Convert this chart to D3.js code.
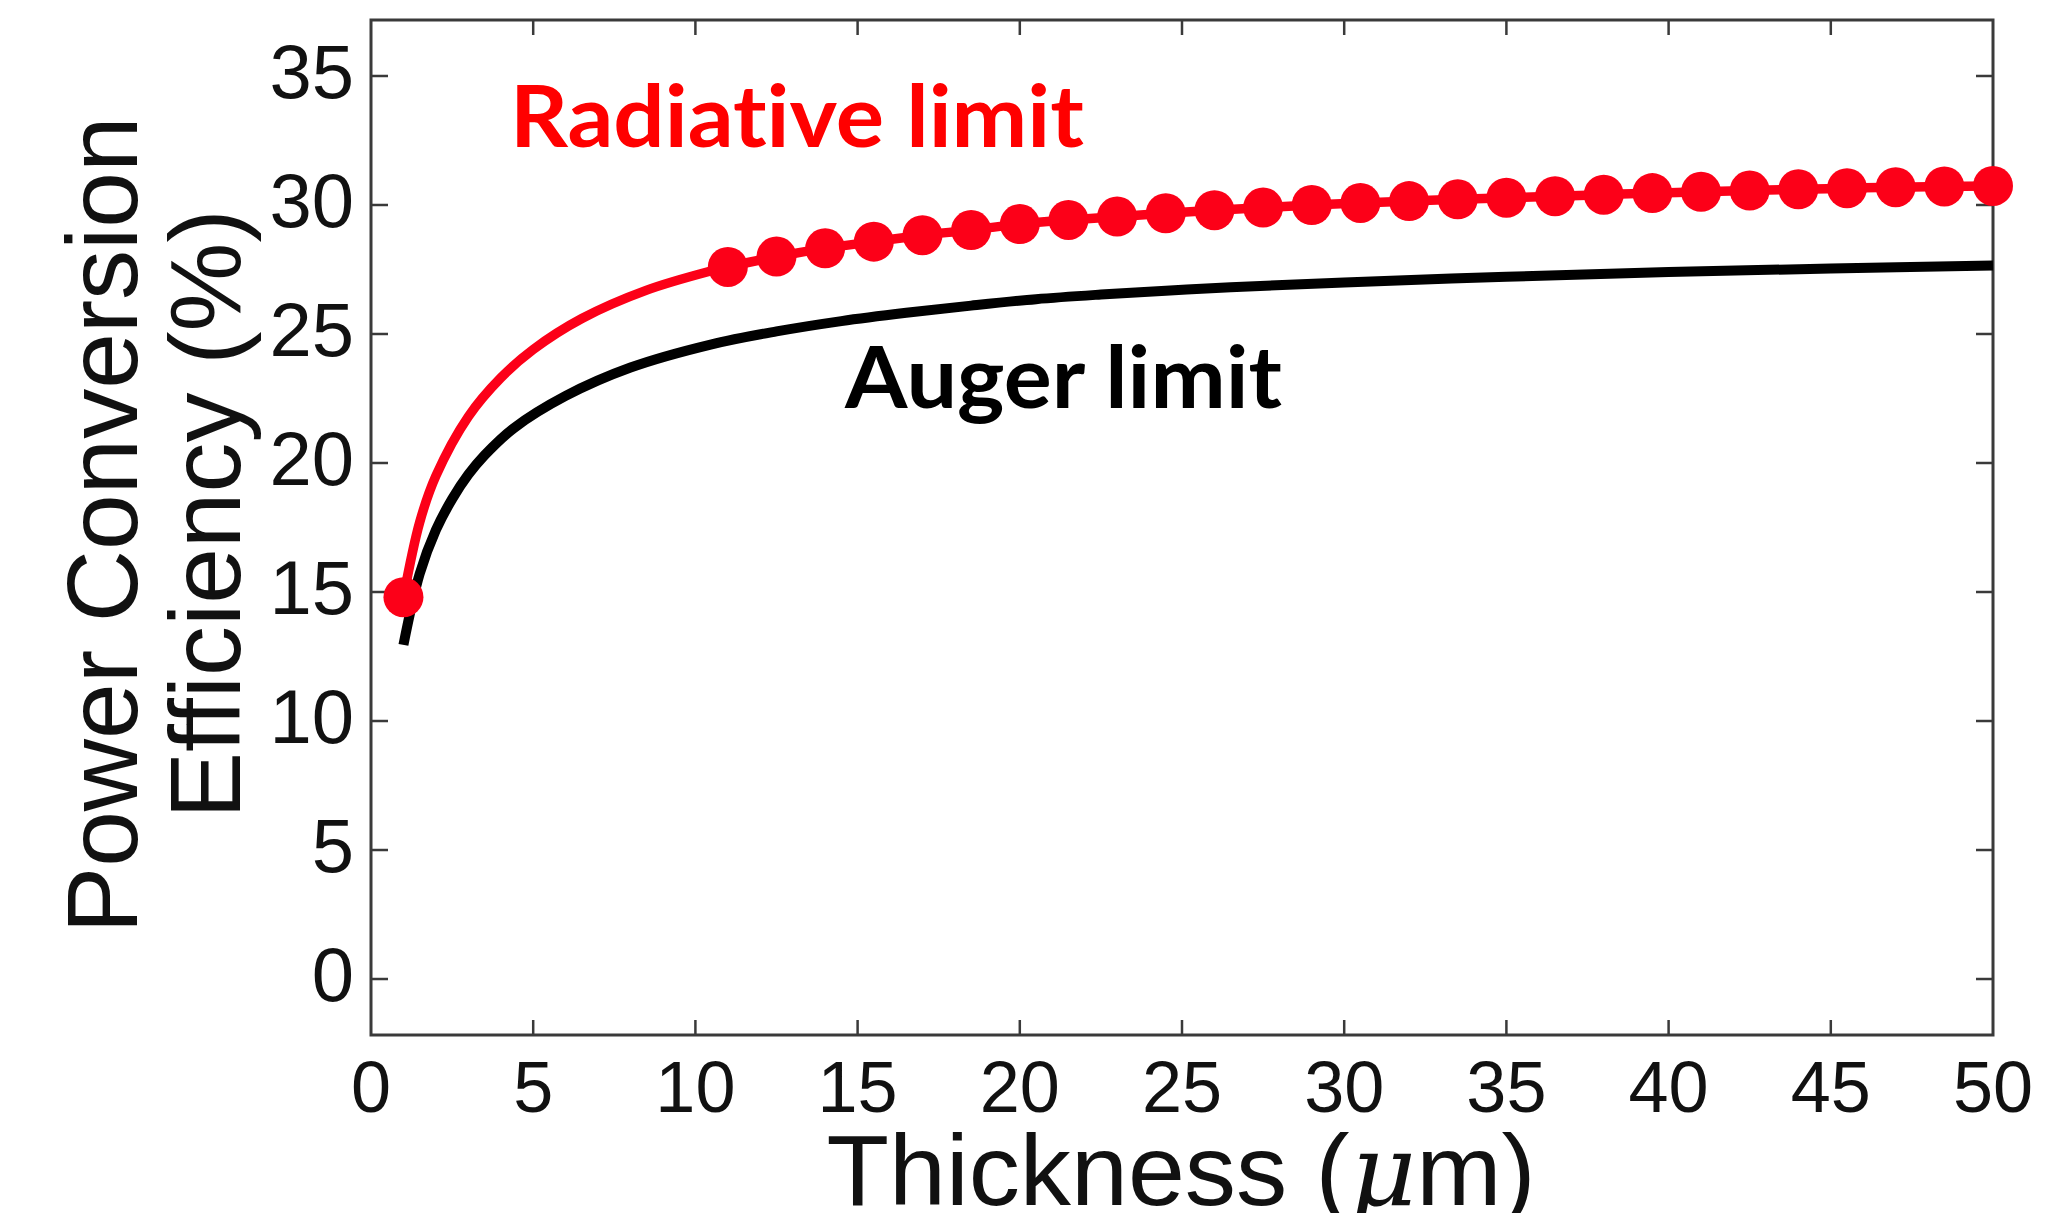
<!DOCTYPE html>
<html>
<head>
<meta charset="utf-8">
<script src="https://cdn.jsdelivr.net/npm/d3@7"></script>
<style>
  html, body { margin: 0; padding: 0; background: #fff; }
  svg { display: block; }
  text { font-variant-ligatures: none; font-feature-settings: "liga" 0, "clig" 0; }
</style>
</head>
<body>
<svg id="chart" width="2072" height="1213"></svg>
<script>
// ---- data ----
const xTicks = [0, 5, 10, 15, 20, 25, 30, 35, 40, 45, 50];
const yTicks = [0, 5, 10, 15, 20, 25, 30, 35];

// Radiative limit: smooth part (thin thickness) then marked points
const radCurveX = [1, 1.5, 2, 3, 4, 5, 6.5, 8.5, 10.5];
const radCurveY = [14.8, 17.7, 19.5, 21.8, 23.3, 24.4, 25.6, 26.7, 27.45];
const radDotX = [1, 11, 12.5, 14, 15.5, 17, 18.5, 20, 21.5, 23, 24.5, 26, 27.5, 29, 30.5, 32, 33.5, 35, 36.5, 38, 39.5, 41, 42.5, 44, 45.5, 47, 48.5, 50];
const radDotY = [14.8, 27.6, 28.0, 28.32, 28.58, 28.83, 29.03, 29.26, 29.42, 29.55, 29.68, 29.8, 29.9, 30.0, 30.08, 30.15, 30.22, 30.28, 30.34, 30.4, 30.46, 30.51, 30.56, 30.61, 30.65, 30.69, 30.72, 30.74];

// Auger limit
const augX = [1, 1.5, 2, 2.5, 3, 3.5, 4.4, 6, 8, 10.5, 12.5, 14.5, 16.5, 18.5, 20.5, 22.5, 24.5, 26.5, 30, 35, 40, 45, 50];
const augY = [12.95, 15.7, 17.4, 18.6, 19.55, 20.3, 21.35, 22.6, 23.7, 24.6, 25.1, 25.5, 25.82, 26.1, 26.35, 26.53, 26.68, 26.81, 27.0, 27.22, 27.4, 27.54, 27.65];

// ---- layout ----
const L = 371, R = 1993, T = 20, B = 1035;
const svg = d3.select("#chart");
const x = d3.scaleLinear().domain([0, 50]).range([L, R]);
const y = d3.scaleLinear().domain([-2.17, 37.17]).range([B, T]);

const axisColor = "#3a3a3a";
const font = "'Liberation Sans', Arial, Helvetica, sans-serif";

// ticks (inward on all four sides)
const tickG = svg.append("g").attr("stroke", axisColor).attr("stroke-width", 2.5);
xTicks.forEach(v => {
  if (v === 0 || v === 50) return;
  tickG.append("line").attr("x1", x(v)).attr("x2", x(v)).attr("y1", B).attr("y2", B - 15);
  tickG.append("line").attr("x1", x(v)).attr("x2", x(v)).attr("y1", T).attr("y2", T + 15);
});
yTicks.forEach(v => {
  tickG.append("line").attr("x1", L).attr("x2", L + 17).attr("y1", y(v)).attr("y2", y(v));
  tickG.append("line").attr("x1", R).attr("x2", R - 17).attr("y1", y(v)).attr("y2", y(v));
});

// frame
svg.append("rect").attr("x", L).attr("y", T).attr("width", R - L).attr("height", B - T)
  .attr("fill", "none").attr("stroke", axisColor).attr("stroke-width", 3);

// tick labels
svg.append("g").selectAll("text").data(xTicks).join("text")
  .attr("x", d => x(d)).attr("y", 1112)
  .attr("text-anchor", "middle")
  .attr("font-family", font).attr("font-size", 72).attr("fill", "#111")
  .text(d => d);
svg.append("g").selectAll("text").data(yTicks).join("text")
  .attr("x", 354).attr("y", d => y(d) + 22)
  .attr("text-anchor", "end")
  .attr("font-family", font).attr("font-size", 76).attr("fill", "#111")
  .text(d => d);

// axis titles
const xt = svg.append("text").attr("x", 1181).attr("y", 1205)
  .attr("text-anchor", "middle").attr("font-family", font).attr("font-size", 100).attr("fill", "#111")
  .attr("textLength", 709).attr("lengthAdjust", "spacingAndGlyphs");
xt.append("tspan").text("Thickness (");
xt.append("tspan").attr("font-style", "italic").attr("font-family", "'DejaVu Serif', 'Liberation Serif', serif").text("μ");
xt.append("tspan").text("m)");

svg.append("text").attr("transform", "translate(137,525) rotate(-90)")
  .attr("text-anchor", "middle").attr("font-family", font).attr("font-size", 100).attr("fill", "#111")
  .text("Power Conversion");
svg.append("text").attr("transform", "translate(240,514) rotate(-90)")
  .attr("text-anchor", "middle").attr("font-family", font).attr("font-size", 100).attr("fill", "#111")
  .text("Efficiency (%)");

const line = d3.line().x(d => x(d[0])).y(d => y(d[1])).curve(d3.curveCatmullRom.alpha(0.5));

// Auger line
svg.append("path")
  .datum(augX.map((v, i) => [v, augY[i]]))
  .attr("d", line).attr("fill", "none").attr("stroke", "#000").attr("stroke-width", 10);

// Radiative line
const radPts = radCurveX.map((v, i) => [v, radCurveY[i]])
  .concat(radDotX.slice(1).map((v, i) => [v, radDotY[i + 1]]));
const redCol = "#fc0018";
svg.append("path")
  .datum(radPts)
  .attr("d", line).attr("fill", "none").attr("stroke", redCol).attr("stroke-width", 9.5);

svg.append("g").selectAll("circle").data(radDotX.map((v, i) => [v, radDotY[i]])).join("circle")
  .attr("cx", d => x(d[0])).attr("cy", d => y(d[1])).attr("r", 20).attr("fill", redCol);

// annotations
svg.append("text").attr("x", 510).attr("y", 147)
  .attr("font-family", "Lato, 'Open Sans', sans-serif").attr("font-weight", 700)
  .attr("font-size", 86).attr("fill", "#ff0000")
  .attr("textLength", 574).attr("lengthAdjust", "spacingAndGlyphs")
  .text("Radiative limit");
svg.append("text").attr("x", 845).attr("y", 408)
  .attr("font-family", "Lato, 'Open Sans', sans-serif").attr("font-weight", 700)
  .attr("font-size", 86).attr("fill", "#000")
  .attr("textLength", 437).attr("lengthAdjust", "spacingAndGlyphs")
  .text("Auger limit");
</script>
</body>
</html>
